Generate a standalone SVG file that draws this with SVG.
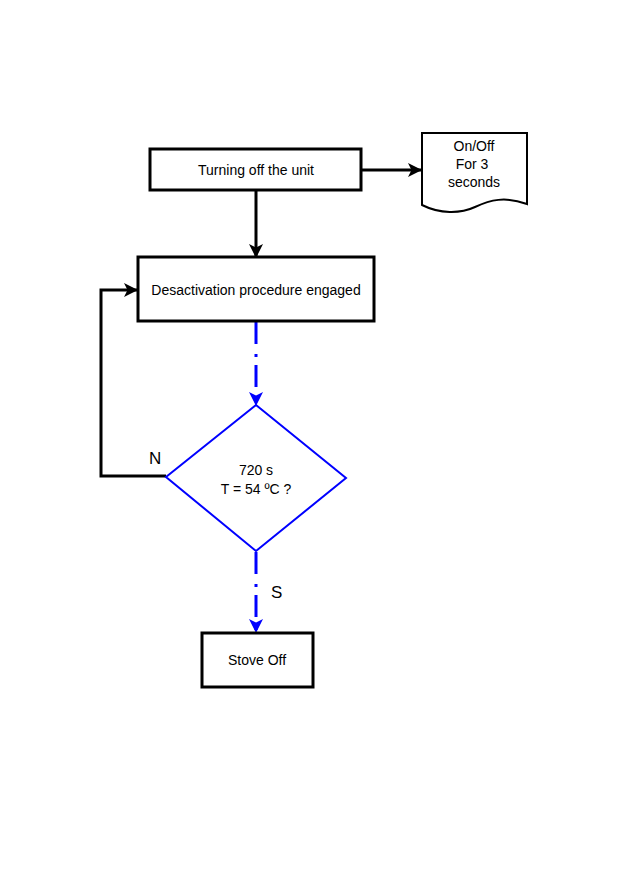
<svg xmlns="http://www.w3.org/2000/svg" width="629" height="893" viewBox="0 0 629 893">
<style>
.box{fill:#fff;stroke:#000;stroke-width:3}
.t{font-family:"Liberation Sans",Arial,sans-serif;font-size:14px;fill:#000;text-anchor:middle}
.lbl{font-family:"Liberation Sans",Arial,sans-serif;font-size:17px;fill:#000}
.blk{fill:none;stroke:#000;stroke-width:3}
.blu{fill:none;stroke:#0000ff;stroke-width:3;stroke-dasharray:22,10,3,8}
</style>
<defs>
<marker id="ab" viewBox="0 0 14 14" refX="13" refY="7" markerWidth="14" markerHeight="14" markerUnits="userSpaceOnUse" orient="auto">
<path d="M0,0 L14,7 L0,14 L3.5,7 Z" fill="#000"/>
</marker>
<marker id="au" viewBox="0 0 14 14" refX="13" refY="7" markerWidth="14" markerHeight="14" markerUnits="userSpaceOnUse" orient="auto">
<path d="M0,0 L14,7 L0,14 L3.5,7 Z" fill="#0000ff"/>
</marker>
</defs>
<rect width="629" height="893" fill="#fff"/>
<g id="connectors">
<line class="blk" x1="361" y1="170" x2="421" y2="170" marker-end="url(#ab)"/>
<line class="blk" x1="256" y1="190" x2="256" y2="257" marker-end="url(#ab)"/>
<polyline class="blk" points="166,476 101,476 101,290 137,290" marker-end="url(#ab)"/>
<line class="blu" x1="256" y1="322" x2="256" y2="405" marker-end="url(#au)"/>
<line class="blu" x1="256" y1="552" x2="256" y2="632" marker-end="url(#au)"/>
<text class="lbl" x="149" y="464">N</text>
<text class="lbl" x="271" y="598">S</text>
</g>
<g id="turning-off">
<rect class="box" x="150" y="149" width="211" height="41"/>
<text class="t" x="256" y="175">Turning off the unit</text>
</g>
<g id="onoff-doc">
<path d="M422,133 L527,133 L527,204 C505,196 490,200 475,207 C460,214 440,214 422,205 Z" fill="#fff" stroke="#000" stroke-width="2"/>
<text class="t" x="474" y="151">On/Off</text>
<text class="t" x="472" y="169">For 3</text>
<text class="t" x="474" y="187">seconds</text>
</g>
<g id="desactivation">
<rect class="box" x="138" y="257" width="236" height="64"/>
<text class="t" x="256" y="295">Desactivation procedure engaged</text>
</g>
<g id="decision">
<polygon points="256,405 346,478 256,551 166,477" fill="#fff" stroke="#0000ff" stroke-width="2"/>
<text class="t" x="256" y="475">720 s</text>
<text class="t" x="256" y="494">T = 54 ºC ?</text>
</g>
<g id="stove-off">
<rect class="box" x="202" y="633" width="111" height="54"/>
<text class="t" x="257" y="665">Stove Off</text>
</g>
</svg>
